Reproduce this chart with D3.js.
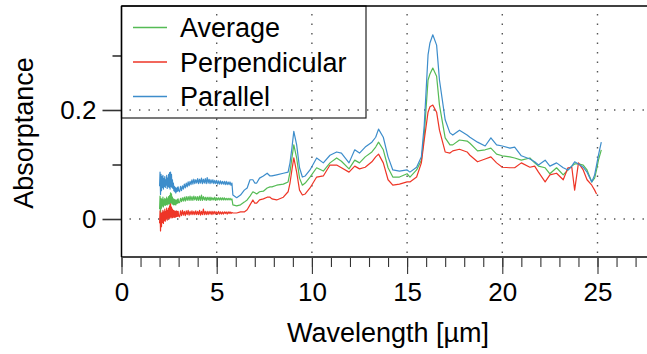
<!DOCTYPE html>
<html>
<head>
<meta charset="utf-8">
<script src="https://cdn.jsdelivr.net/npm/d3@7"></script>
<style>
  html, body { margin: 0; padding: 0; background: #fff; }
  svg text { font-family: "Liberation Sans", Arial, Helvetica, sans-serif; fill: #000; }
</style>
</head>
<body>
<div class="chart"></div>
<script>
// wavelength grid [µm], shared by the three spectra (dense where the short-wave end is noisy)
const wavelength = [2.000,2.025,2.050,2.075,2.100,2.125,2.150,2.175,2.200,2.225,2.250,2.275,2.300,2.325,2.350,2.375,2.400,2.425,2.450,2.475,
  2.500,2.525,2.550,2.575,2.600,2.625,2.650,2.675,2.700,2.725,2.750,2.775,2.800,2.825,2.850,2.875,2.900,2.925,2.950,2.975,3.000,
  3.05,3.10,3.15,3.20,3.25,3.30,3.35,3.40,3.45,3.50,3.55,3.60,3.65,3.70,3.75,3.80,3.85,3.90,3.95,4.00,
  4.05,4.10,4.15,4.20,4.25,4.30,4.35,4.40,4.45,4.50,4.55,4.60,4.65,4.70,4.75,4.80,4.85,4.90,4.95,5.00,
  5.05,5.10,5.15,5.20,5.25,5.30,5.35,5.40,5.45,5.50,5.55,5.60,5.65,5.70,5.75,5.80,
  5.85,6.05,6.25,6.45,6.6,6.75,6.9,7.0,7.1,7.25,7.45,7.65,7.8,7.9,8.15,8.5,8.75,8.85,8.95,9.05,9.2,9.35,9.5,9.65,9.9,
  10.25,10.6,10.95,11.3,11.55,11.95,12.25,12.5,12.8,13.15,13.35,13.5,13.75,14.0,14.25,14.6,15.0,15.15,15.5,15.75,15.9,
  16.1,16.2,16.35,16.55,16.7,17.0,17.25,17.4,17.75,18.15,18.3,18.7,19.1,19.4,19.7,20.0,20.4,20.65,21.0,21.45,21.7,21.9,
  22.25,22.5,22.85,23.2,23.45,23.65,23.8,24.0,24.25,24.45,24.7,24.85,24.95,25.05,25.2];

const average = [0.018,0.042,0.012,0.038,0.020,0.036,0.024,0.040,0.022,0.035,0.026,0.038,0.025,0.036,0.027,0.040,0.026,0.037,0.028,0.041,
  0.027,0.043,0.028,0.048,0.030,0.046,0.028,0.040,0.027,0.037,0.026,0.036,0.027,0.035,0.026,0.034,0.028,0.036,0.029,0.037,0.030,
  0.030,0.038,0.032,0.039,0.033,0.040,0.033,0.041,0.034,0.041,0.034,0.042,0.034,0.041,0.034,0.042,0.035,0.041,0.034,0.041,
  0.034,0.042,0.034,0.044,0.034,0.041,0.035,0.040,0.034,0.040,0.035,0.040,0.034,0.040,0.035,0.039,0.035,0.040,0.034,0.039,
  0.035,0.039,0.035,0.039,0.035,0.039,0.035,0.039,0.035,0.038,0.035,0.038,0.035,0.038,0.035,0.037,
  0.026,0.024,0.026,0.031,0.035,0.042,0.050,0.048,0.046,0.050,0.051,0.057,0.059,0.059,0.062,0.064,0.068,0.086,0.112,0.136,0.112,0.075,0.062,0.066,0.077,
  0.094,0.088,0.103,0.112,0.106,0.092,0.108,0.103,0.114,0.123,0.132,0.141,0.127,0.094,0.077,0.077,0.083,0.077,0.090,0.108,0.154,
  0.255,0.266,0.277,0.262,0.209,0.149,0.136,0.136,0.145,0.143,0.139,0.125,0.127,0.130,0.119,0.116,0.114,0.112,0.108,0.112,0.103,0.097,
  0.094,0.083,0.094,0.081,0.090,0.097,0.101,0.101,0.099,0.090,0.068,0.075,0.090,0.108,0.127];

const perpendicular = [-0.008,0.015,-0.022,0.010,-0.014,0.012,-0.006,0.016,-0.008,0.013,-0.003,0.018,-0.004,0.014,0.000,0.020,-0.002,0.016,0.002,0.020,
  0.000,0.024,0.002,0.028,0.004,0.022,0.002,0.018,0.003,0.016,0.004,0.015,0.003,0.014,0.004,0.015,0.005,0.014,0.005,0.014,0.006,
  0.004,0.015,0.006,0.016,0.007,0.014,0.006,0.015,0.008,0.016,0.007,0.014,0.008,0.015,0.008,0.014,0.008,0.015,0.008,0.014,
  0.008,0.016,0.007,0.014,0.008,0.018,0.008,0.014,0.008,0.014,0.008,0.014,0.009,0.014,0.008,0.014,0.009,0.014,0.009,0.013,
  0.009,0.014,0.009,0.013,0.009,0.013,0.009,0.013,0.010,0.013,0.009,0.013,0.010,0.013,0.010,0.012,
  0.011,0.011,0.013,0.013,0.017,0.026,0.035,0.029,0.029,0.035,0.037,0.040,0.040,0.037,0.035,0.040,0.050,0.066,0.090,0.112,0.086,0.053,0.044,0.046,0.057,
  0.077,0.079,0.099,0.099,0.094,0.086,0.097,0.092,0.095,0.105,0.114,0.119,0.103,0.072,0.062,0.064,0.068,0.068,0.077,0.103,0.145,
  0.196,0.206,0.209,0.196,0.163,0.123,0.121,0.125,0.128,0.123,0.117,0.105,0.110,0.114,0.103,0.095,0.094,0.094,0.103,0.095,0.097,0.086,
  0.068,0.081,0.084,0.072,0.094,0.095,0.053,0.103,0.090,0.072,0.062,0.053,0.046,null,null];

const parallel = [0.060,0.086,0.045,0.082,0.052,0.078,0.058,0.080,0.055,0.074,0.060,0.078,0.058,0.072,0.062,0.080,0.056,0.075,0.060,0.082,
  0.058,0.085,0.055,0.086,0.060,0.082,0.058,0.072,0.056,0.066,0.052,0.060,0.050,0.058,0.048,0.056,0.050,0.058,0.051,0.059,0.053,
  0.050,0.060,0.052,0.061,0.055,0.064,0.057,0.066,0.059,0.068,0.061,0.069,0.063,0.072,0.064,0.073,0.065,0.072,0.066,0.074,
  0.065,0.073,0.066,0.075,0.065,0.073,0.066,0.074,0.065,0.076,0.066,0.073,0.065,0.072,0.066,0.072,0.065,0.071,0.065,0.071,
  0.064,0.070,0.064,0.070,0.064,0.069,0.064,0.069,0.063,0.069,0.063,0.068,0.063,0.068,0.062,0.066,
  0.044,0.039,0.044,0.053,0.057,0.072,0.072,0.066,0.066,0.075,0.079,0.084,0.079,0.079,0.081,0.084,0.086,0.103,0.130,0.161,0.136,0.094,0.077,0.079,0.090,
  0.112,0.103,0.117,0.123,0.121,0.103,0.127,0.121,0.132,0.141,0.150,0.165,0.150,0.114,0.090,0.088,0.090,0.086,0.095,0.114,0.172,
  0.301,0.323,0.338,0.319,0.255,0.182,0.158,0.154,0.163,0.154,0.150,0.141,0.134,0.149,0.136,0.134,0.130,0.132,0.116,0.110,0.105,0.099,
  0.108,0.097,0.103,0.094,0.090,0.097,0.105,0.101,0.095,0.086,0.068,0.081,0.099,0.117,0.141];

const seriesNames = ["Average", "Perpendicular", "Parallel"];
const seriesColors = ["#55bb55", "#ee3526", "#3d8dcb"];
const xMajorTicks = [0, 5, 10, 15, 20, 25];
const yMajorTicks = [0, 0.2];
const yMinorTicks = [0.1, 0.3];

const W = 647, H = 354;
const plotLeft = 121.5, plotTop = 6, plotRight = 647, plotBottom = 257;

const x = d3.scaleLinear().domain([0, 27.6]).range([plotLeft, plotRight]);
const y = d3.scaleLinear().domain([-0.0697, 0.3908]).range([plotBottom, plotTop]);

const svg = d3.select(".chart").append("svg")
    .attr("width", W).attr("height", H)
    .style("display", "block");

// dotted grid
const grid = svg.append("g").attr("stroke", "#555").attr("stroke-width", 1.4).attr("stroke-dasharray", "1.4,8.1");
grid.selectAll("line.gx").data(xMajorTicks.filter(d => d > 0)).join("line")
    .attr("class", "gx")
    .attr("x1", d => x(d)).attr("x2", d => x(d))
    .attr("y1", plotBottom - 4).attr("y2", plotTop);
grid.selectAll("line.gy").data(yMajorTicks).join("line")
    .attr("class", "gy")
    .attr("x1", plotLeft + 8).attr("x2", plotRight)
    .attr("y1", d => y(d)).attr("y2", d => y(d));

// spectra
const series = [average, perpendicular, parallel];
const line = d3.line()
    .defined(d => d[1] !== null)
    .x(d => x(d[0]))
    .y(d => y(d[1]));

svg.append("g").selectAll("path").data(series).join("path")
    .attr("d", s => line(wavelength.map((w, i) => [w, s[i]])))
    .attr("fill", "none")
    .attr("stroke", (s, i) => seriesColors[i])
    .attr("stroke-width", 1.2)
    .attr("stroke-linejoin", "round");

// legend
const legend = svg.append("g");
legend.append("rect")
    .attr("x", plotLeft).attr("y", plotTop)
    .attr("width", 366 - plotLeft).attr("height", 118 - plotTop)
    .attr("fill", "none").attr("stroke", "#222").attr("stroke-width", 1.2);
seriesNames.forEach((name, i) => {
    const ly = 27.5 + i * 34.5;
    legend.append("line")
        .attr("x1", 133).attr("x2", 167)
        .attr("y1", ly).attr("y2", ly)
        .style("stroke", seriesColors[i]).style("stroke-width", 1.3);
    legend.append("text")
        .attr("x", 180).attr("y", ly + 9.5)
        .style("font-size", "27px")
        .text(name);
});

// frame top
svg.append("line")
    .attr("x1", plotLeft).attr("x2", plotRight).attr("y1", plotTop).attr("y2", plotTop)
    .attr("stroke", "#000").attr("stroke-width", 1.5);

// x axis
const xMinor = svg.append("g").attr("transform", "translate(0," + plotBottom + ")")
    .call(d3.axisBottom(x).tickValues(d3.range(0, 28)).tickSize(10).tickFormat(""));
const xMajor = svg.append("g").attr("transform", "translate(0," + plotBottom + ")")
    .call(d3.axisBottom(x).tickValues(xMajorTicks).tickSize(17).tickPadding(9).tickFormat(d3.format("d")));
[xMinor, xMajor].forEach(g => {
    g.select(".domain").remove();
    g.selectAll(".tick line").attr("stroke", "#333").attr("stroke-width", 1.1);
});
xMajor.selectAll(".tick text").style("font-size", "26px").attr("font-family", null);
svg.append("line")
    .attr("x1", plotLeft).attr("x2", plotRight).attr("y1", plotBottom).attr("y2", plotBottom)
    .attr("stroke", "#444").attr("stroke-width", 2);

// y axis
const yMinor = svg.append("g").attr("transform", "translate(" + plotLeft + ",0)")
    .call(d3.axisLeft(y).tickValues(yMinorTicks).tickSize(9).tickFormat(""));
const yMajor = svg.append("g").attr("transform", "translate(" + plotLeft + ",0)")
    .call(d3.axisLeft(y).tickValues(yMajorTicks).tickSize(19).tickPadding(6).tickFormat(d => d === 0 ? "0" : d3.format(".1f")(d)));
[yMinor, yMajor].forEach(g => {
    g.select(".domain").remove();
    g.selectAll(".tick line").attr("stroke", "#333").attr("stroke-width", 1.6);
});
yMajor.selectAll(".tick text").style("font-size", "26px").attr("font-family", null);
svg.append("line")
    .attr("x1", plotLeft).attr("x2", plotLeft).attr("y1", plotTop).attr("y2", plotBottom)
    .attr("stroke", "#000").attr("stroke-width", 1.5);

// axis titles
svg.append("text")
    .attr("x", 388).attr("y", 342)
    .attr("text-anchor", "middle")
    .style("font-size", "27px")
    .text("Wavelength [µm]");
svg.append("text")
    .attr("transform", "translate(33,133) rotate(-90)")
    .attr("text-anchor", "middle")
    .style("font-size", "27px")
    .text("Absorptance");
</script>
</body>
</html>
